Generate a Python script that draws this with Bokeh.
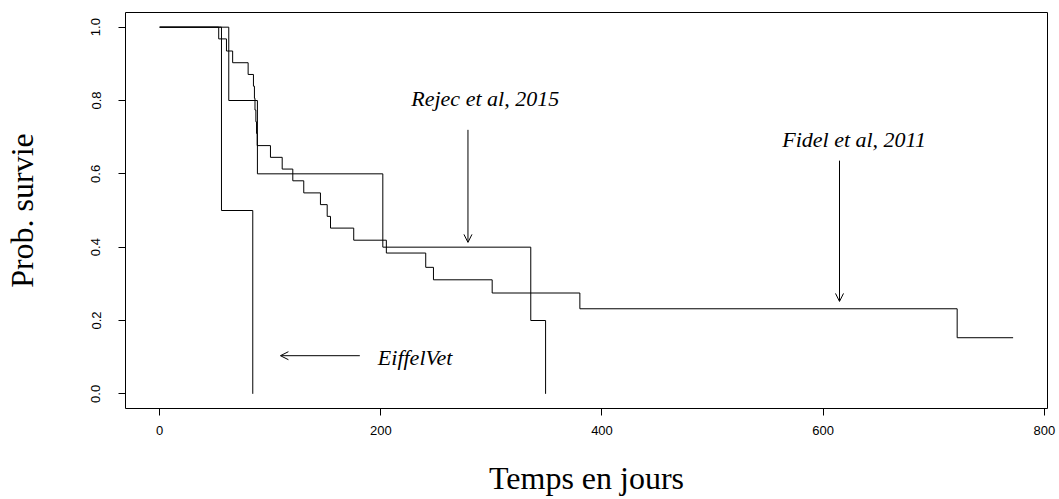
from bokeh.plotting import figure
from bokeh.models import Range1d, FixedTicker, Label, Arrow, OpenHead, PrintfTickFormatter
from bokeh.embed import file_html
from bokeh.resources import INLINE

# ---- data ----
fidel_t = [0, 53.4, 60.4, 66.0, 80.0, 84.8, 85.7, 86.2, 87.0, 87.6, 88.2,
           100.2, 110.8, 120.4, 130.3, 145.4, 151.5, 154.5, 175.5, 205.0,
           240.6, 247.6, 300.7, 380.0, 721.2, 771.8]
fidel_s = [1.0, 0.968, 0.935, 0.903, 0.871, 0.839, 0.806, 0.774, 0.742, 0.710, 0.677,
           0.645, 0.613, 0.581, 0.548, 0.516, 0.484, 0.452, 0.419, 0.384,
           0.345, 0.311, 0.275, 0.232, 0.153, 0.153]

rejec_t = [0, 62.5, 88.4, 201.8, 335.6, 349.0]
rejec_s = [1.0, 0.8, 0.6, 0.4, 0.2, 0.0]

eiffel_t = [0, 55.9, 84.2]
eiffel_s = [1.0, 0.5, 0.0]

x_ticks = [0, 200, 400, 600, 800]
y_ticks = [0.0, 0.2, 0.4, 0.6, 0.8, 1.0]

x_title = "Temps en jours"
y_title = "Prob. survie"

# annotations: text, text position, arrow start, arrow end
ann_rejec = ("Rejec et al, 2015", 294.4, 0.806, 278.8, 0.72, 278.8, 0.413)
ann_fidel = ("Fidel et al, 2011", 628.0, 0.693, 614.8, 0.636, 614.8, 0.252)
ann_eiffel = ("EiffelVet", 231.0, 0.100, 181.0, 0.104, 109.2, 0.104)

# ---- figure ----
p = figure(width=1059, height=499, output_backend="svg", toolbar_location=None,
           x_range=Range1d(-30.9, 802.9), y_range=Range1d(-0.04, 1.04),
           min_border_left=125, min_border_right=12, min_border_top=12,
           min_border_bottom=91, background_fill_color="white",
           border_fill_color="white")
p.grid.visible = False
p.outline_line_color = "black"
p.outline_line_width = 1
p.outline_line_alpha = 1.0

for ax in (p.xaxis[0], p.yaxis[0]):
    ax.axis_line_color = None
    ax.major_tick_in = 0
    ax.major_tick_out = 7
    ax.major_tick_line_color = "black"
    ax.minor_tick_line_color = None
    ax.major_label_text_font = "Liberation Sans"
    ax.major_label_text_font_size = "13px"
    ax.major_label_text_color = "black"
    ax.axis_label_text_font = "Liberation Serif"
    ax.axis_label_text_font_size = "32px"
    ax.axis_label_text_font_style = "normal"
    ax.axis_label_text_color = "black"

p.xaxis.ticker = FixedTicker(ticks=x_ticks)
p.xaxis.formatter = PrintfTickFormatter(format="%d")
p.xaxis.major_label_standoff = 10
p.xaxis.axis_label = x_title
p.xaxis.axis_label_standoff = 22

p.yaxis.ticker = FixedTicker(ticks=y_ticks)
p.yaxis.formatter = PrintfTickFormatter(format="%.1f")
p.yaxis.major_label_orientation = "vertical"
p.yaxis.major_label_standoff = 18
p.yaxis.axis_label = y_title
p.yaxis.axis_label_standoff = 49

# curves
for t, s in ((fidel_t, fidel_s), (rejec_t, rejec_s), (eiffel_t, eiffel_s)):
    p.step(x=t, y=s, mode="after", line_color="black", line_width=1)

# annotations
for txt, tx, ty, x0, y0, x1, y1 in (ann_rejec, ann_fidel, ann_eiffel):
    p.add_layout(Label(x=tx, y=ty, text=txt, text_align="center",
                       text_baseline="middle", text_font="Liberation Serif",
                       text_font_style="italic", text_font_size="22px",
                       text_color="black"))
    p.add_layout(Arrow(x_start=x0, y_start=y0, x_end=x1, y_end=y1,
                       line_color="black", line_width=1,
                       end=OpenHead(size=8, line_width=1, line_color="black")))

open("out.html", "w").write(file_html(p, INLINE))
